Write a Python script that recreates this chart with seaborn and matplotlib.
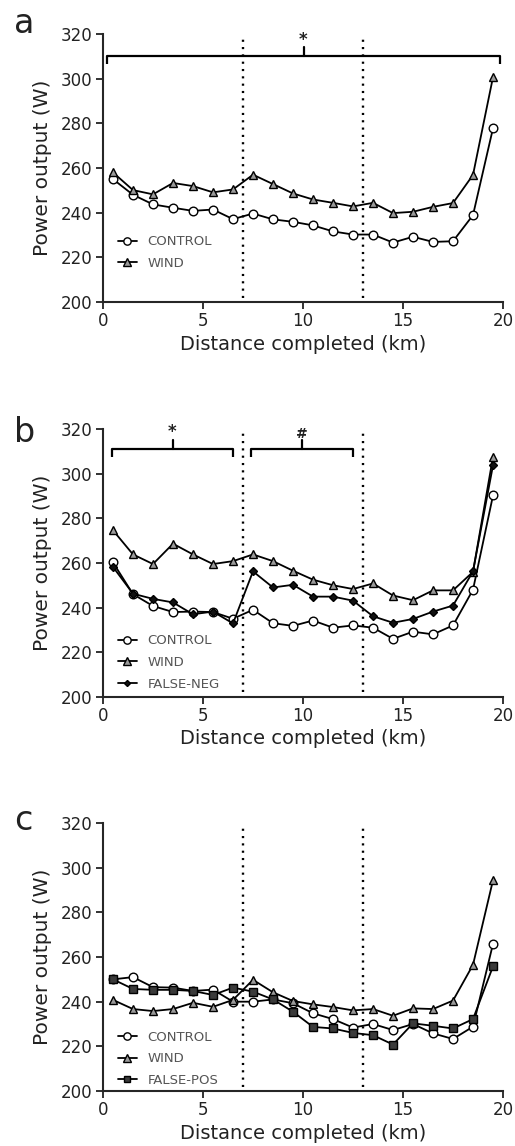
import numpy as np
import pandas as pd
import matplotlib
matplotlib.use("Agg")
from matplotlib import pyplot as plt
import seaborn as sns

# distance (km), midpoints of each 1 km segment
km = [0.5, 1.5, 2.5, 3.5, 4.5, 5.5, 6.5, 7.5, 8.5, 9.5,
      10.5, 11.5, 12.5, 13.5, 14.5, 15.5, 16.5, 17.5, 18.5, 19.5]

# panel a
a_control = [255, 248, 243.7, 242.2, 240.8, 241.4, 237.1, 239.6, 237, 235.9,
             234.3, 231.6, 230.2, 230.2, 226.6, 229.2, 226.9, 227.2, 238.9, 277.8]
a_wind = [258, 250.1, 248.2, 253.3, 251.9, 249.1, 250.4, 257, 252.8, 248.6,
          245.9, 244.4, 242.8, 244.4, 239.8, 240.4, 242.6, 244.3, 256.9, 300.7]

# panel b
b_control = [260.2, 246, 240.7, 238, 238.2, 238, 235, 239, 233, 231.8,
             234.2, 231, 232, 231, 226, 229.2, 228, 232, 248, 290.2]
b_wind = [274.6, 263.8, 259.5, 268.6, 263.8, 259.5, 260.8, 263.8, 260.8, 256.5,
          252.5, 250, 248.3, 250.8, 245.4, 243.3, 247.7, 247.7, 256, 307.5]
b_falseneg = [258.2, 246.2, 243.9, 242.3, 237, 238.2, 232.9, 256.2, 249, 250.2,
              244.9, 244.9, 243.1, 236.1, 233.2, 234.9, 238.2, 240.9, 256.2, 303.7]

# panel c
c_control = [250, 251, 246.5, 246.3, 244.8, 245.4, 240, 240, 241, 239.3,
             234.8, 232.2, 228.4, 230, 227.3, 230, 225.8, 223.3, 228.8, 265.9]
c_wind = [240.8, 236.7, 235.8, 236.7, 239.5, 237.7, 240.8, 249.8, 244.2, 240.3,
          238.8, 237.6, 236.1, 236.7, 233.7, 237, 236.7, 240.5, 256.5, 294.4]
c_falsepos = [250, 245.7, 245.3, 245.3, 244.8, 243, 246.3, 244.5, 241, 235.5,
              228.7, 228, 226, 225, 220.8, 230.3, 229.2, 228, 232.2, 255.8]

splits = [7, 13]
# significance brackets: (start km, end km, symbol)
a_brackets = [(0.2, 19.85, "*")]
b_brackets = [(0.45, 6.5, "*"), (7.4, 12.5, "#")]

styles = {
    "CONTROL": dict(marker="o", mfc="white", ms=6.2),
    "WIND": dict(marker="^", mfc="#9a9a9a", ms=6.2),
    "FALSE-NEG": dict(marker="D", mfc="#111111", ms=3.6),
    "FALSE-POS": dict(marker="s", mfc="#3a3a3a", ms=5.6),
}

panels = [
    ("a", {"CONTROL": a_control, "WIND": a_wind}, a_brackets),
    ("b", {"CONTROL": b_control, "WIND": b_wind, "FALSE-NEG": b_falseneg}, b_brackets),
    ("c", {"CONTROL": c_control, "WIND": c_wind, "FALSE-POS": c_falsepos}, []),
]

sns.set_style("ticks")
plt.rcParams["font.family"] = ["DejaVu Sans"]
plt.rcParams["text.color"] = "#222222"
plt.rcParams["axes.labelcolor"] = "#222222"
plt.rcParams["xtick.color"] = "#222222"
plt.rcParams["ytick.color"] = "#222222"

fig = plt.figure(figsize=(5.15, 11.46), dpi=100)
tops = [0.9703, 0.6257, 0.2818]
letter_y = [0.9712, 0.6143, 0.2757]
legend_y = [0.10, 0.004, -0.004]
h = 0.2338

for (letter, series, brackets), top, ly, lgy in zip(panels, tops, letter_y, legend_y):
    ax = fig.add_axes([0.2, top - h, 0.7767, h])
    for name, vals in series.items():
        st = styles[name]
        df = pd.DataFrame({"km": km, "W": vals})
        sns.lineplot(data=df, x="km", y="W", ax=ax, color="black", lw=1.3,
                     marker=st["marker"], markerfacecolor=st["mfc"],
                     markeredgecolor="black", markeredgewidth=1.0,
                     markersize=st["ms"], label=name, errorbar=None, clip_on=False)

    for s in splits:
        ax.plot([s, s], [202, 318.5], color="black", lw=1.7, ls=(0, (0.9, 2.2)))

    for x0, x1, sym in brackets:
        yb = 310 if letter == "a" else 311
        mid = (x0 + x1) / 2
        ax.plot([x0, x0, x1, x1], [yb - 3.5, yb, yb, yb - 3.5], color="black", lw=1.6,
                solid_capstyle="butt")
        ax.plot([mid, mid], [yb, yb + 4], color="black", lw=1.6)
        ax.text(mid, yb + 3.5, sym, ha="center", va="bottom",
                fontsize=12 if sym == "*" else 10, fontweight="bold")

    ax.set_xlim(0, 20)
    ax.set_ylim(200, 320)
    ax.set_xticks([0, 5, 10, 15, 20])
    ax.set_yticks(np.arange(200, 321, 20))
    ax.tick_params(labelsize=12, length=5, width=1.3, pad=2.5)
    ax.set_xlabel("Distance completed (km)", fontsize=14, labelpad=3)
    ax.set_ylabel("Power output (W)", fontsize=14.5, labelpad=6)
    sns.despine(ax=ax)
    for sp in ["left", "bottom"]:
        ax.spines[sp].set_linewidth(1.5)

    ax.legend(loc="lower left", bbox_to_anchor=(0.024, lgy), frameon=False,
              fontsize=9.5, handlelength=1.45, handletextpad=0.8,
              labelspacing=0.65, borderaxespad=0, markerscale=0.85,
              labelcolor="#555555")

    fig.text(0.027, ly, letter, fontsize=24, va="baseline", ha="left")

fig.savefig("out.png", dpi=100)
